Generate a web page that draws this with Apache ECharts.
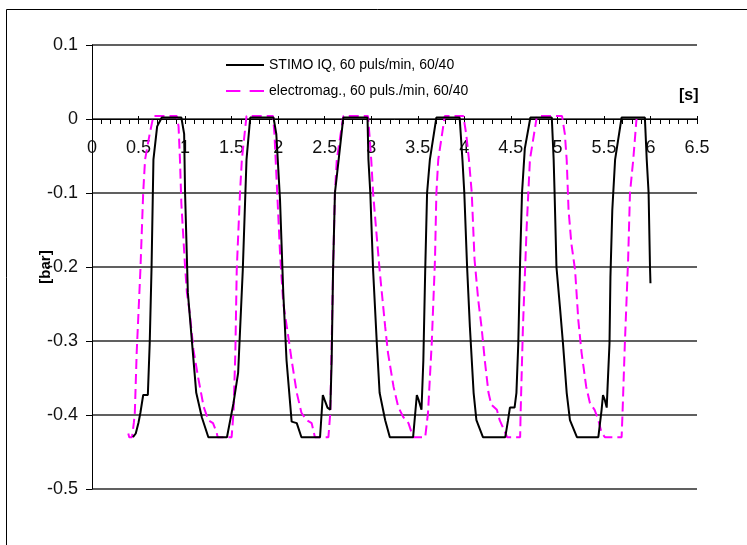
<!DOCTYPE html>
<html>
<head>
<meta charset="utf-8">
<script src="https://cdn.jsdelivr.net/npm/echarts@6/dist/echarts.min.js"></script>
<style>
html,body{margin:0;padding:0;background:#fff;}
#chart{width:747px;height:545px;}
</style>
</head>
<body>
<div id="chart"></div>
<script>
// ---- data (time in s, pressure in bar) ----
var seriesNames = ['STIMO IQ, 60 puls/min, 60/40', 'electromag., 60 puls./min, 60/40'];
var xTicks = [0, 0.5, 1, 1.5, 2, 2.5, 3, 3.5, 4, 4.5, 5, 5.5, 6, 6.5];
var yTicks = [-0.5, -0.4, -0.3, -0.2, -0.1, 0, 0.1];

var stimoTime = [0.44,0.47,0.50,0.52,0.55,0.60,0.62,0.64,0.66,0.70,0.75,0.96,0.99,1.00,1.03,1.07,1.12,1.18,1.25,1.45,1.52,1.57,1.62,1.66,1.70,1.95,1.98,2.02,2.055,2.09,2.145,2.20,2.25,2.45,2.48,2.50,2.53,2.56,2.575,2.59,2.61,2.65,2.70,2.96,2.97,2.99,3.02,3.06,3.09,3.15,3.20,3.45,3.49,3.51,3.54,3.56,3.58,3.60,3.63,3.70,3.95,3.98,4.00,4.03,4.06,4.10,4.13,4.20,4.44,4.47,4.49,4.54,4.56,4.58,4.60,4.62,4.65,4.71,4.94,4.96,4.97,4.99,5.03,5.06,5.10,5.135,5.21,5.44,5.475,5.49,5.51,5.53,5.54,5.56,5.57,5.59,5.62,5.69,5.94,5.96,5.98,5.995,6.00];
var stimoBar  = [-0.43,-0.425,-0.41,-0.397,-0.373,-0.373,-0.303,-0.20,-0.055,-0.01,0.002,0.002,-0.02,-0.10,-0.235,-0.295,-0.37,-0.403,-0.43,-0.43,-0.384,-0.343,-0.204,-0.055,0.002,0.002,-0.02,-0.109,-0.235,-0.326,-0.409,-0.411,-0.43,-0.43,-0.373,-0.38,-0.39,-0.393,-0.326,-0.204,-0.10,-0.055,0.002,0.002,-0.055,-0.10,-0.204,-0.303,-0.37,-0.407,-0.43,-0.43,-0.373,-0.38,-0.393,-0.326,-0.204,-0.10,-0.055,0.002,0.002,-0.055,-0.10,-0.20,-0.281,-0.37,-0.407,-0.43,-0.43,-0.407,-0.39,-0.39,-0.37,-0.303,-0.19,-0.10,-0.04,0.002,0.002,-0.055,-0.10,-0.20,-0.258,-0.303,-0.37,-0.407,-0.43,-0.43,-0.393,-0.373,-0.38,-0.39,-0.36,-0.303,-0.213,-0.123,-0.055,0.002,0.002,-0.055,-0.10,-0.20,-0.222];

var emagTime = [0.39,0.40,0.43,0.45,0.46,0.48,0.52,0.55,0.57,0.62,0.66,0.91,0.93,0.945,0.96,1.00,1.02,1.05,1.09,1.14,1.20,1.25,1.30,1.34,1.35,1.50,1.52,1.54,1.555,1.59,1.61,1.66,1.945,1.96,1.99,2.02,2.055,2.11,2.145,2.20,2.25,2.305,2.36,2.395,2.54,2.56,2.575,2.59,2.61,2.63,2.70,2.965,2.98,3.00,3.02,3.06,3.09,3.15,3.18,3.24,3.29,3.345,3.40,3.45,3.58,3.61,3.65,3.685,3.70,3.72,3.79,3.99,4.02,4.05,4.08,4.11,4.15,4.185,4.22,4.26,4.29,4.35,4.38,4.44,4.46,4.60,4.605,4.63,4.67,4.705,4.78,5.05,5.08,5.10,5.12,5.15,5.19,5.225,5.26,5.31,5.35,5.40,5.44,5.475,5.51,5.69,5.70,5.725,5.76,5.78,5.815,5.85];
var emagBar  = [-0.425,-0.43,-0.43,-0.41,-0.397,-0.316,-0.204,-0.10,-0.055,-0.02,0.004,0.004,-0.01,-0.055,-0.114,-0.20,-0.235,-0.262,-0.312,-0.349,-0.389,-0.407,-0.411,-0.424,-0.43,-0.43,-0.397,-0.316,-0.204,-0.10,-0.055,0.004,0.004,-0.02,-0.10,-0.181,-0.249,-0.295,-0.326,-0.37,-0.397,-0.407,-0.411,-0.43,-0.43,-0.397,-0.303,-0.204,-0.10,-0.055,0.004,0.004,-0.02,-0.055,-0.10,-0.16,-0.204,-0.281,-0.316,-0.362,-0.389,-0.403,-0.411,-0.43,-0.43,-0.397,-0.303,-0.19,-0.10,-0.055,0.004,0.004,-0.02,-0.055,-0.10,-0.19,-0.245,-0.281,-0.326,-0.37,-0.386,-0.393,-0.407,-0.424,-0.43,-0.43,-0.397,-0.281,-0.146,-0.055,0.004,0.004,-0.02,-0.055,-0.123,-0.168,-0.204,-0.272,-0.316,-0.362,-0.384,-0.393,-0.407,-0.424,-0.43,-0.43,-0.397,-0.303,-0.19,-0.10,-0.055,0.0];

function pairs(t, v) { return t.map(function (x, i) { return [x, v[i]]; }); }

var FONT = '"Liberation Sans", Arial, sans-serif';
var GRID_TOP = 45, GRID_BOTTOM = 56, H = 545;
var plotH = H - GRID_TOP - GRID_BOTTOM;
// shift the x axis (line, ticks, labels) up to the y = 0 position
var zeroOffset = -plotH * (0 - yTicks[0]) / (yTicks[yTicks.length - 1] - yTicks[0]);

var chart = echarts.init(document.getElementById('chart'), null, {renderer: 'canvas'});
chart.setOption({
  animation: false,
  backgroundColor: '#ffffff',
  grid: {left: 92, right: 50, top: GRID_TOP, bottom: GRID_BOTTOM, containLabel: false},
  legend: {
    orient: 'vertical', left: 221, top: 53,
    itemWidth: 38, itemHeight: 14, itemGap: 12,
    textStyle: {fontFamily: FONT, fontSize: 14, color: '#000'},
    data: [
      {name: seriesNames[0], icon: 'path://M0,0H38V2H0Z'},
      {name: seriesNames[1], icon: 'path://M0,0H14V2H0Z M23,0H37V2H23Z'}
    ]
  },
  xAxis: [{
    type: 'value', min: xTicks[0], max: xTicks[xTicks.length - 1], interval: 0.5,
    position: 'bottom', offset: zeroOffset,
    axisLine: {show: true, onZero: false, lineStyle: {color: '#000', width: 1}},
    axisTick: {show: true, length: 5, lineStyle: {color: '#000'}},
    minorTick: {show: true, splitNumber: 5, length: 5, lineStyle: {color: '#000'}},
    splitLine: {show: false},
    axisLabel: {fontFamily: FONT, fontSize: 18, color: '#111', margin: 20, showMinLabel: true, showMaxLabel: true}
  }, {
    type: 'value', min: xTicks[0], max: xTicks[xTicks.length - 1], interval: 0.5,
    position: 'bottom', offset: zeroOffset,
    axisLine: {show: false, onZero: false},
    axisTick: {show: true, inside: true, length: 3, lineStyle: {color: '#000'}},
    minorTick: {show: false},
    splitLine: {show: false},
    axisLabel: {show: false}
  }],
  yAxis: {
    type: 'value', min: yTicks[0], max: yTicks[yTicks.length - 1], interval: 0.1,
    axisLine: {show: true, lineStyle: {color: '#000', width: 1}},
    axisTick: {show: true, length: 6, lineStyle: {color: '#000'}},
    splitLine: {show: true, lineStyle: {color: '#606060', width: 2}},
    axisLabel: {fontFamily: FONT, fontSize: 18, color: '#111', margin: 14,
      formatter: function (v) { return String(Math.round(v * 10) / 10); }}
  },
  graphic: [
    {type: 'rect', silent: true, shape: {x: 6.5, y: 9.5, width: 800, height: 600},
      style: {fill: 'none', stroke: '#000', lineWidth: 1}},
    {type: 'text', left: 679, top: 88, silent: true,
      style: {text: '[s]', fontFamily: FONT, fontSize: 16, fontWeight: 'bold', fill: '#000'}},
    {type: 'text', x: 46, y: 267, rotation: Math.PI / 2, silent: true,
      style: {text: '[bar]', fontFamily: FONT, fontSize: 15, fontWeight: 'bold', fill: '#000',
        align: 'center', verticalAlign: 'middle'}}
  ],
  series: [
    {name: seriesNames[0], type: 'line', symbol: 'none', xAxisIndex: 0, data: pairs(stimoTime, stimoBar),
      lineStyle: {color: '#000000', width: 2}, itemStyle: {color: '#000000'}, z: 3},
    {name: seriesNames[1], type: 'line', symbol: 'none', xAxisIndex: 0, data: pairs(emagTime, emagBar),
      lineStyle: {color: '#ff00ff', width: 2, type: [10, 5]}, itemStyle: {color: '#ff00ff'}, z: 2}
  ]
});
</script>
</body>
</html>
